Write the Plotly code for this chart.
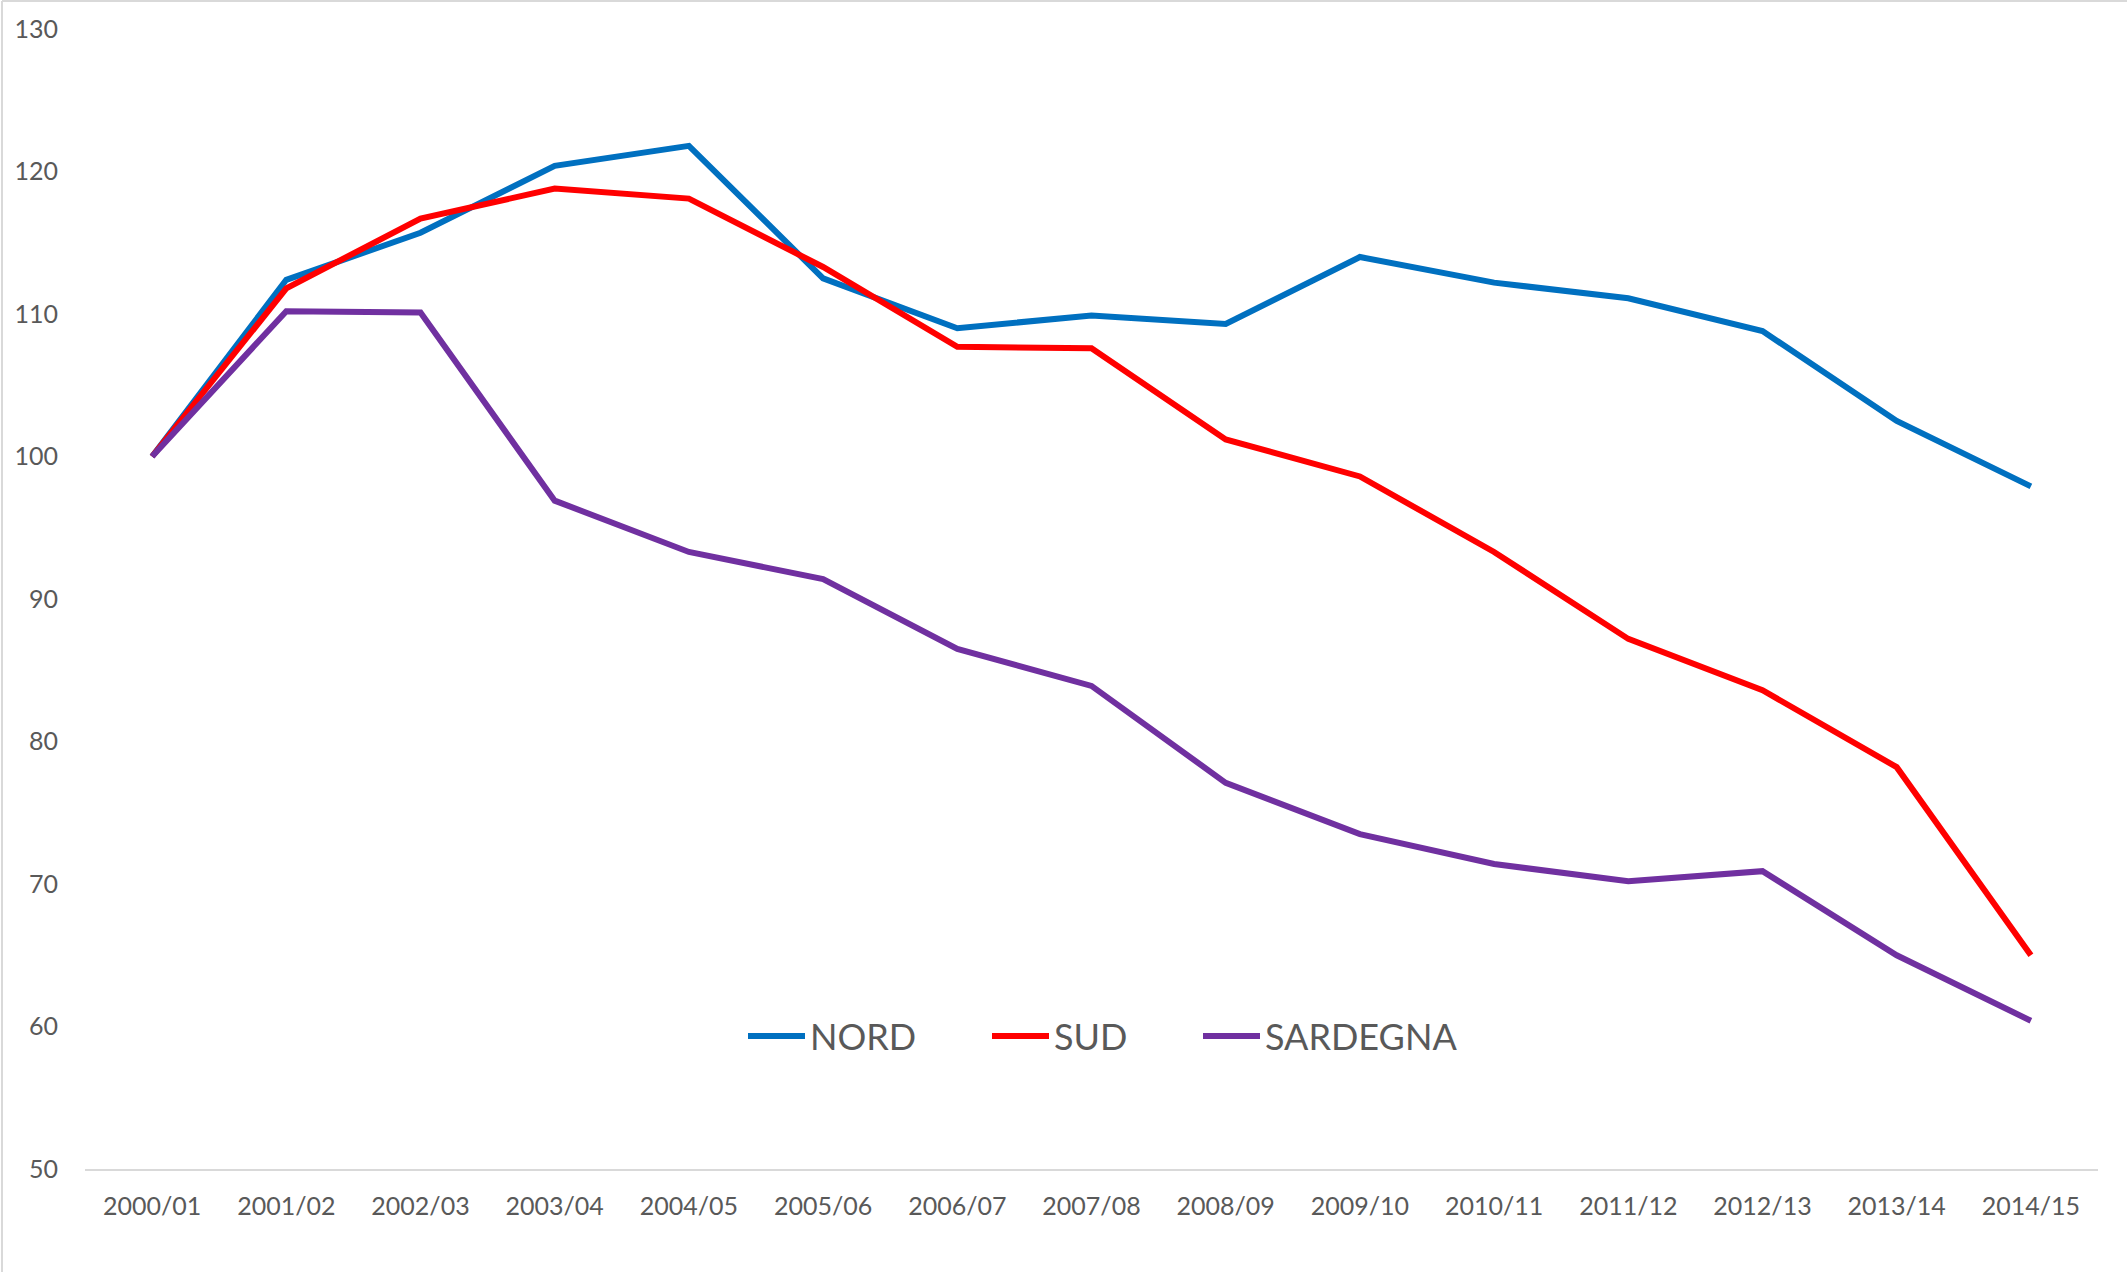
import plotly.graph_objects as go

years = ["2000/01", "2001/02", "2002/03", "2003/04", "2004/05", "2005/06", "2006/07",
         "2007/08", "2008/09", "2009/10", "2010/11", "2011/12", "2012/13", "2013/14", "2014/15"]

nord = [100, 112.4, 115.7, 120.4, 121.8, 112.5, 109.0, 109.9, 109.3, 114.0,
        112.2, 111.1, 108.8, 102.5, 97.9]
sud = [100, 111.8, 116.7, 118.8, 118.1, 113.3, 107.7, 107.6, 101.2, 98.6,
       93.3, 87.2, 83.6, 78.2, 65.0]
sardegna = [100, 110.2, 110.1, 96.9, 93.3, 91.4, 86.5, 83.9, 77.1, 73.5,
            71.4, 70.2, 70.9, 65.0, 60.4]

series = [("NORD", nord, "#0070C0"), ("SUD", sud, "#FF0000"), ("SARDEGNA", sardegna, "#7030A0")]
legend_ids = ["legend", "legend2", "legend3"]
legend_left_px = [743, 987, 1198]

W, H = 2127, 1272
ml, mr, mt, mb = 85, 29, 29, 103
pw, ph = W - ml - mr, H - mt - mb

fig = go.Figure()
for (name, vals, col), lg in zip(series, legend_ids):
    fig.add_trace(go.Scatter(
        x=years, y=vals, name=name, mode="lines",
        line=dict(color=col, width=6), legend=lg,
    ))

legend_style = dict(
    orientation="h", xanchor="left", yanchor="middle",
    y=(1169 - 1036) / ph,
    font=dict(size=36, color="#595959"),
    bgcolor="rgba(0,0,0,0)", itemwidth=57,
)
legends = {}
for lg, px_left in zip(legend_ids, legend_left_px):
    legends[lg] = dict(legend_style, x=(px_left - ml) / pw)

fig.update_layout(
    width=W, height=H,
    margin=dict(l=ml, r=mr, t=mt, b=mb),
    paper_bgcolor="white", plot_bgcolor="white",
    font=dict(family="Lato", color="#595959"),
    showlegend=True,
    xaxis=dict(
        type="category", range=[-0.5, 14.5], showgrid=False, zeroline=False,
        showline=True, linecolor="#D9D9D9", linewidth=2, ticks="",
        tickfont=dict(size=25, color="#595959"), ticklabelstandoff=14,
    ),
    yaxis=dict(
        range=[50, 130], dtick=10, showgrid=False, zeroline=False, showline=False,
        ticks="", tickfont=dict(size=25, color="#595959"), ticklabelstandoff=26,
    ),
    shapes=[
        dict(type="line", xref="paper", yref="paper",
             x0=(2 - ml) / pw, x1=(2 - ml) / pw, y0=-mb / ph, y1=(H - mb - 1) / ph,
             line=dict(color="#D9D9D9", width=2)),
        dict(type="line", xref="paper", yref="paper",
             x0=(2 - ml) / pw, x1=(W - ml) / pw, y0=(H - mb - 1) / ph, y1=(H - mb - 1) / ph,
             line=dict(color="#D9D9D9", width=2)),
    ],
    **legends,
)

fig.write_html(
    "out.html",
    config={"displayModeBar": False},
    post_script="document.body.style.margin='0';",
)
